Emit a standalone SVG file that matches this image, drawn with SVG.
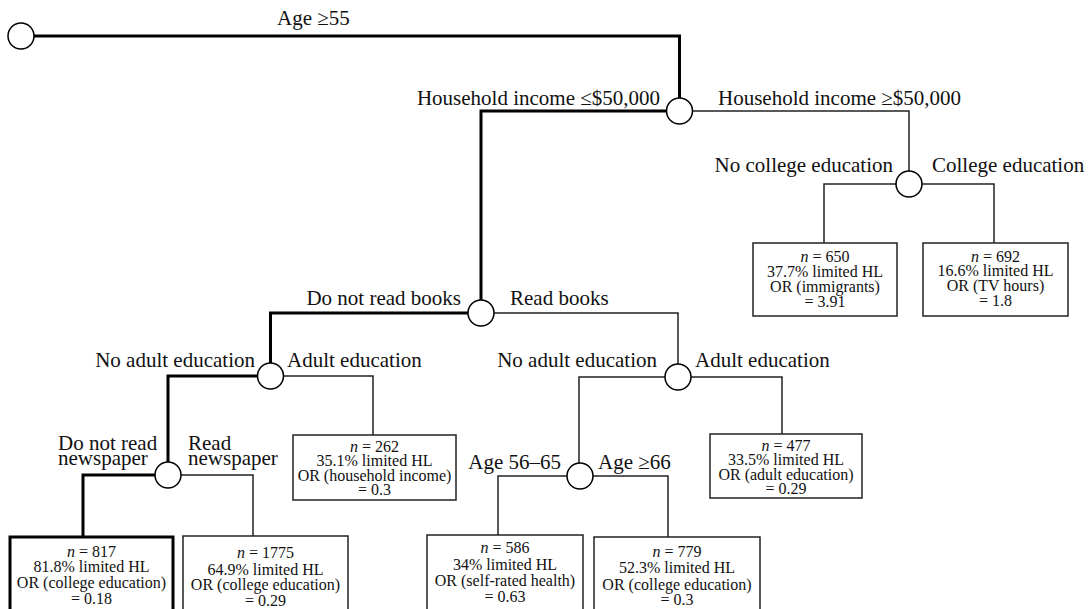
<svg xmlns="http://www.w3.org/2000/svg" width="1089" height="609" viewBox="0 0 1089 609">
<style>
.thick{fill:none;stroke:#000;stroke-width:3;stroke-linejoin:miter}
.thin{fill:none;stroke:#222;stroke-width:1.5}
.node{fill:#fff;stroke:#000;stroke-width:1.5}
.box{fill:#fff;stroke:#222;stroke-width:1.5}
.boxb{fill:#fff;stroke:#000;stroke-width:3}
.lbl{font-family:"Liberation Serif",serif;font-size:21px;fill:#111}
.bt{font-family:"Liberation Serif",serif;font-size:16px;fill:#111;text-anchor:middle}
.end{text-anchor:end}
</style>
<rect width="1089" height="609" fill="#fff"/>
<g id="connectors">
<path class="thick" d="M21,36 H679.5 V111 H481 V313 H270.5 V376 H168 V475 H83 V537"/>
<path class="thin" d="M679.5,111 H909 V184"/>
<path class="thin" d="M909,184 H824 V243"/>
<path class="thin" d="M909,184 H994 V243"/>
<path class="thin" d="M481,313 H678 V377"/>
<path class="thin" d="M270.5,376 H373 V435"/>
<path class="thin" d="M678,377 H579 V476"/>
<path class="thin" d="M678,377 H782 V434"/>
<path class="thin" d="M168,475 H253 V536"/>
<path class="thin" d="M580,476 H498 V535"/>
<path class="thin" d="M580,476 H668 V537"/>
</g>
<g id="n0"><circle class="node" cx="21" cy="36" r="13"/></g>
<text class="lbl" x="277" y="25">Age ≥55</text>
<g id="n1"><circle class="node" cx="679.5" cy="111" r="13"/>
<text class="lbl end" x="660" y="105">Household income ≤$50,000</text>
<text class="lbl" x="718" y="105">Household income ≥$50,000</text></g>
<g id="n2"><circle class="node" cx="909" cy="184" r="13"/>
<text class="lbl end" x="893" y="172">No college education</text>
<text class="lbl" x="932" y="172">College education</text></g>
<g id="n3"><circle class="node" cx="481" cy="313" r="13"/>
<text class="lbl end" x="461" y="305">Do not read books</text>
<text class="lbl" x="510" y="305">Read books</text></g>
<g id="n4"><circle class="node" cx="270.5" cy="376" r="13"/>
<text class="lbl end" x="255" y="367">No adult education</text>
<text class="lbl" x="287" y="367">Adult education</text></g>
<g id="n5"><circle class="node" cx="678" cy="377" r="13"/>
<text class="lbl end" x="657" y="367">No adult education</text>
<text class="lbl" x="695" y="367">Adult education</text></g>
<g id="n6"><circle class="node" cx="168" cy="475" r="13"/>
<text class="lbl" x="58" y="450">Do not read</text>
<text class="lbl" x="58" y="465">newspaper</text>
<text class="lbl" x="188" y="450">Read</text>
<text class="lbl" x="188" y="465">newspaper</text></g>
<g id="n7"><circle class="node" cx="580" cy="476" r="13"/>
<text class="lbl end" x="561" y="469">Age 56–65</text>
<text class="lbl" x="598" y="469">Age ≥66</text></g>
<g id="b650"><rect class="box" x="753" y="243" width="144" height="73"/>
<text class="bt" x="825" y="262"><tspan font-style="italic">n</tspan> = 650</text>
<text class="bt" x="825" y="277">37.7% limited HL</text>
<text class="bt" x="825" y="292">OR (immigrants)</text>
<text class="bt" x="825" y="307">= 3.91</text></g>
<g id="b692"><rect class="box" x="923" y="243" width="145" height="73"/>
<text class="bt" x="995.5" y="262"><tspan font-style="italic">n</tspan> = 692</text>
<text class="bt" x="995.5" y="276">16.6% limited HL</text>
<text class="bt" x="995.5" y="291">OR (TV hours)</text>
<text class="bt" x="995.5" y="306">= 1.8</text></g>
<g id="b262"><rect class="box" x="293" y="435" width="163" height="65"/>
<text class="bt" x="374.5" y="452"><tspan font-style="italic">n</tspan> = 262</text>
<text class="bt" x="374.5" y="466">35.1% limited HL</text>
<text class="bt" x="374.5" y="481">OR (household income)</text>
<text class="bt" x="374.5" y="495">= 0.3</text></g>
<g id="b477"><rect class="box" x="710" y="434" width="152" height="64"/>
<text class="bt" x="786" y="451"><tspan font-style="italic">n</tspan> = 477</text>
<text class="bt" x="786" y="465">33.5% limited HL</text>
<text class="bt" x="786" y="480">OR (adult education)</text>
<text class="bt" x="786" y="494">= 0.29</text></g>
<g id="b817"><rect class="boxb" x="10" y="537" width="163" height="76"/>
<text class="bt" x="91.5" y="557"><tspan font-style="italic">n</tspan> = 817</text>
<text class="bt" x="91.5" y="572">81.8% limited HL</text>
<text class="bt" x="91.5" y="588">OR (college education)</text>
<text class="bt" x="91.5" y="604">= 0.18</text></g>
<g id="b1775"><rect class="box" x="183" y="536" width="165" height="77"/>
<text class="bt" x="265.5" y="558"><tspan font-style="italic">n</tspan> = 1775</text>
<text class="bt" x="265.5" y="575">64.9% limited HL</text>
<text class="bt" x="265.5" y="590">OR (college education)</text>
<text class="bt" x="265.5" y="606">= 0.29</text></g>
<g id="b586"><rect class="box" x="427" y="535" width="156" height="78"/>
<text class="bt" x="505" y="553"><tspan font-style="italic">n</tspan> = 586</text>
<text class="bt" x="505" y="570">34% limited HL</text>
<text class="bt" x="505" y="586">OR (self-rated health)</text>
<text class="bt" x="505" y="602">= 0.63</text></g>
<g id="b779"><rect class="box" x="594" y="537" width="166" height="76"/>
<text class="bt" x="677" y="557"><tspan font-style="italic">n</tspan> = 779</text>
<text class="bt" x="677" y="573">52.3% limited HL</text>
<text class="bt" x="677" y="590">OR (college education)</text>
<text class="bt" x="677" y="605">= 0.3</text></g>
</svg>
